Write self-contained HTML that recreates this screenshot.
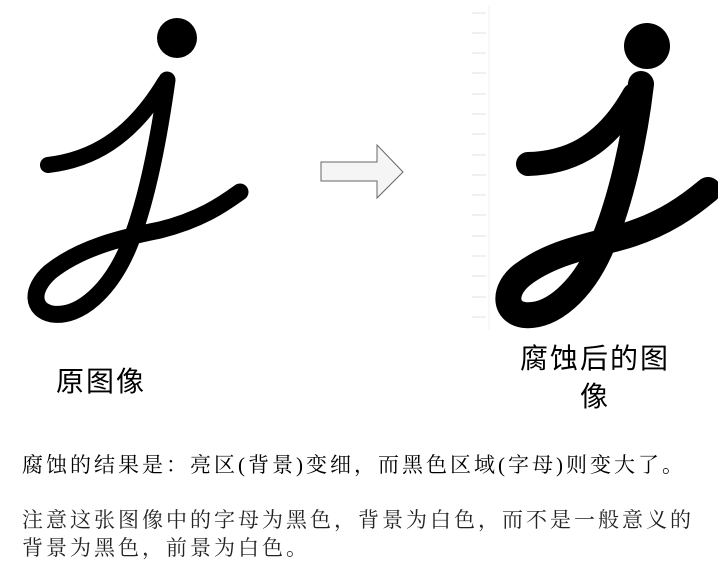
<!DOCTYPE html>
<html><head><meta charset="utf-8"><style>
body{margin:0;width:718px;height:564px;background:#fff;overflow:hidden;position:relative;font-family:"Liberation Sans","Noto Sans CJK SC",sans-serif}
.t{position:absolute;white-space:nowrap;color:#000}
.p{font-family:"Liberation Serif","Noto Serif CJK SC",serif;font-size:21px;letter-spacing:3px}
</style></head><body>
<svg width="718" height="564" style="position:absolute;left:0;top:0">
 <g fill="none" stroke="#000" stroke-linecap="round" stroke-linejoin="round">
  <circle cx="177" cy="38" r="20" fill="#000" stroke="none"/>
  <path d="M48,165 C90,160 130,140 165,82" stroke-width="16"/>
  <path d="M167,80 C160,130 148,200 128,248 C110,290 80,318 52,314 C32,310 30,290 50,272 C80,248 120,238 160,230 C200,220 222,205 240,192" stroke-width="17"/>
 </g>
 <g stroke="#e6e6e6" stroke-width="1.2">
  <line x1="489" y1="5" x2="489" y2="330" stroke="#f2f2f2"/>
  <line x1="472" y1="13" x2="486" y2="13"/><line x1="472" y1="33" x2="486" y2="33"/><line x1="472" y1="53" x2="486" y2="53"/><line x1="472" y1="73" x2="486" y2="73"/><line x1="472" y1="94" x2="486" y2="94"/><line x1="472" y1="114" x2="486" y2="114"/><line x1="472" y1="134" x2="486" y2="134"/><line x1="472" y1="155" x2="486" y2="155"/><line x1="472" y1="175" x2="486" y2="175"/><line x1="472" y1="195" x2="486" y2="195"/><line x1="472" y1="215" x2="486" y2="215"/><line x1="472" y1="236" x2="486" y2="236"/><line x1="472" y1="256" x2="486" y2="256"/><line x1="472" y1="276" x2="486" y2="276"/><line x1="472" y1="297" x2="486" y2="297"/><line x1="472" y1="317" x2="486" y2="317"/>
 </g>
 <g fill="none" stroke="#000" stroke-linecap="round" stroke-linejoin="round">
  <circle cx="647" cy="46" r="23" fill="#000" stroke="none"/>
  <path d="M528,164 C565,163 603,150 634,95" stroke-width="24"/>
  <path d="M641,84 C635,135 622,200 600,250 C582,290 552,318 524,315 C504,312 503,290 522,275 C552,252 590,246 625,236 C665,224 690,205 708,190" stroke-width="26"/>
 </g>
 <path d="M321,162 L377,162 L377,145 L403,172 L377,198 L377,181 L321,181 Z" fill="#f5f5f5" stroke="#666" stroke-width="1"/>
</svg>
<div class="t" style="left:56px;top:360px;font-size:28px;letter-spacing:2px">原图像</div>
<div class="t" style="left:515px;top:340px;font-size:28px;letter-spacing:2px;line-height:38px;width:160px;text-align:center;white-space:normal">腐蚀后的图像</div>
<div class="t p" style="left:22px;top:449px">腐蚀的结果是：亮区(背景)变细，而黑色区域(字母)则变大了。</div>
<div class="t p" style="left:22px;top:506px;line-height:28px;color:#222">注意这张图像中的字母为黑色，背景为白色，而不是一般意义的<br>背景为黑色，前景为白色。</div>
</body></html>
